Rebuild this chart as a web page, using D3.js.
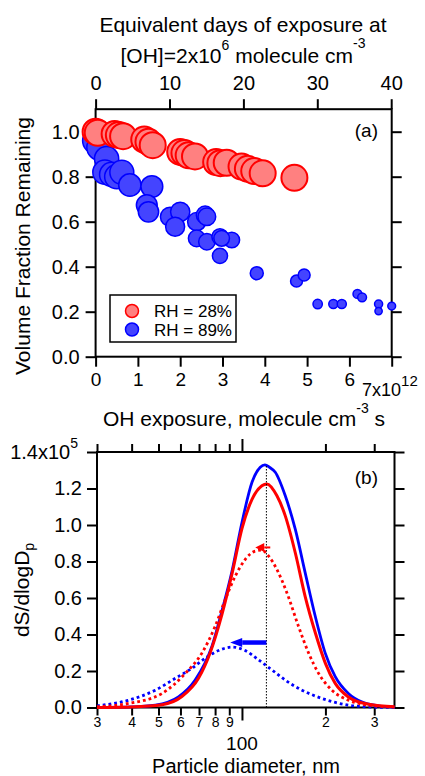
<!DOCTYPE html>
<html>
<head>
<meta charset="utf-8">
<script src="https://cdn.jsdelivr.net/npm/d3@7"></script>
<style>
body{margin:0;background:#fff}
text{font-family:"Liberation Sans",Arial,sans-serif;fill:#000}
</style>
</head>
<body>
<div class="chart"></div>
<script>
// panel (a): OH exposure (x1e12 molecule cm-3 s) vs volume fraction remaining
var redX = [0.0, 0.05, 0.45, 0.55, 0.65, 1.15, 1.25, 1.35, 2.0, 2.1, 2.2, 2.35, 2.85, 2.95, 3.1, 3.45, 3.6, 3.75, 3.95, 4.7]
var redY = [1.0, 0.995, 0.99, 0.985, 0.98, 0.965, 0.955, 0.94, 0.91, 0.905, 0.895, 0.89, 0.865, 0.86, 0.862, 0.845, 0.835, 0.825, 0.815, 0.795]
var blueX = [0.0, 0.1, 0.26, 0.22, 0.38, 0.5, 0.62, 0.81, 1.33, 1.21, 1.25, 1.76, 2.0, 1.88, 2.39, 2.59, 2.63, 2.39, 2.63, 2.94, 3.22, 2.98, 2.94, 3.81, 4.75, 4.93, 5.25, 5.62, 5.82, 6.19, 6.3, 6.69, 6.69, 7.0]
var blueY = [0.96, 0.93, 0.88, 0.82, 0.81, 0.80, 0.82, 0.763, 0.756, 0.674, 0.644, 0.622, 0.644, 0.578, 0.60, 0.63, 0.622, 0.526, 0.511, 0.533, 0.519, 0.526, 0.448, 0.371, 0.336, 0.363, 0.234, 0.234, 0.234, 0.279, 0.264, 0.234, 0.203, 0.225]
// relative marker size of the RH=89% points
var blueSize = [1.0, 1.0, 0.93, 0.93, 0.93, 0.93, 0.92, 0.86, 0.84, 0.8, 0.78, 0.74, 0.74, 0.73, 0.7, 0.68, 0.68, 0.64, 0.63, 0.62, 0.6, 0.6, 0.58, 0.5, 0.46, 0.46, 0.36, 0.35, 0.35, 0.34, 0.34, 0.31, 0.28, 0.3]
var expTicks = [0, 1, 2, 3, 4, 5, 6, 7]
var dayTicks = [0, 10, 20, 30, 40]
var fracTicks = [0, 0.2, 0.4, 0.6, 0.8, 1.0]
var legendLabels = ["RH = 28%", "RH = 89%"]

// panel (b): surface size distributions (x1e5), diameter in nm
var blueSolidD = [30, 40, 48.7, 59, 67.8, 77.9, 84.7, 92, 100, 108.7, 116.4, 121, 126, 131.9, 143.3, 155.7, 169.1, 183.8, 199.7, 217, 242, 270, 311, 355]
var blueSolidV = [0, 0.003, 0.013, 0.058, 0.15, 0.334, 0.53, 0.745, 1.014, 1.234, 1.317, 1.33, 1.315, 1.289, 1.16, 0.977, 0.738, 0.5, 0.298, 0.169, 0.077, 0.031, 0.009, 0.002]
var redSolidD = [30, 40, 51.5, 60.7, 69.7, 76.8, 84.7, 92, 100, 108.7, 118, 123, 133.7, 143.3, 155.7, 169, 184, 200, 217, 242, 286, 355]
var redSolidV = [0, 0.003, 0.015, 0.06, 0.16, 0.3, 0.51, 0.73, 0.98, 1.14, 1.215, 1.225, 1.16, 1.05, 0.848, 0.609, 0.408, 0.242, 0.132, 0.058, 0.018, 0.004]
var redDotD = [30, 39, 51.5, 62.5, 71.7, 80, 87, 94.6, 102.8, 111.7, 118, 124.8, 133.7, 145.3, 160, 174, 189, 211, 242, 286, 355]
var redDotV = [0.004, 0.022, 0.077, 0.187, 0.298, 0.444, 0.591, 0.72, 0.812, 0.857, 0.862, 0.83, 0.756, 0.628, 0.444, 0.298, 0.187, 0.095, 0.04, 0.013, 0.002]
var blueDotD = [30, 39, 48.7, 57.5, 66, 73.7, 82.3, 92, 102.8, 114.8, 128.3, 143.3, 164.6, 194, 242, 300, 355]
var blueDotV = [0.009, 0.04, 0.095, 0.16, 0.215, 0.27, 0.312, 0.331, 0.312, 0.261, 0.206, 0.15, 0.095, 0.05, 0.013, 0.002, 0]
var peakD = 122.5
var peakTop = 1.33
// shift arrows: [from D, to D, level]
var redArrow = [126.5, 111.7, 0.877]
var blueArrow = [122.5, 90.7, 0.356]
var dpTicks = [30, 40, 50, 60, 70, 80, 90, 100, 200, 300]
var dpLabels = ["3", "4", "5", "6", "7", "8", "9", "", "2", "3"]
var dsTicks = [0, 0.2, 0.4, 0.6, 0.8, 1.0, 1.2, 1.4]

var width = 425
var height = 776
var svg = d3.select(".chart").append("svg")
  .attr("width", width)
  .attr("height", height)

var xa = d3.scaleLinear().domain([0, 7]).range([95.6, 391.7])
var xdays = d3.scaleLinear().domain([0, 40]).range([95.6, 391.2])
var ya = d3.scaleLinear().domain([0, 1.1]).range([356.7, 109.2])
var rSize = d3.scaleLinear().domain([0, 1]).range([0, 13])

var xb = d3.scaleLog().domain([30, 355]).range([97, 394.5])
var yb = d3.scaleLinear().domain([0, 1.4]).range([707.5, 452])

function styleAxis(g, fs) {
  g.attr("font-family", null).attr("font-size", fs)
  g.select(".domain").remove()
  g.selectAll(".tick line").attr("stroke", "#000").attr("stroke-width", 2)
  g.selectAll(".tick text").attr("fill", "#000")
}

// ---------- panel (a) ----------
svg.append("g").attr("transform", "translate(0,356.7)")
  .call(d3.axisBottom(xa).tickValues(expTicks).tickSize(10).tickPadding(6)
    .tickFormat(d => d == 7 ? "" : d))
  .call(g => styleAxis(g, 19))
svg.append("g").attr("transform", "translate(0,109.2)")
  .call(d3.axisTop(xdays).tickValues(dayTicks).tickSize(10).tickPadding(9))
  .call(g => styleAxis(g, 20))
svg.append("g").attr("transform", "translate(95.6,0)")
  .call(d3.axisLeft(ya).tickValues(fracTicks).tickSize(10).tickPadding(6).tickFormat(d3.format(".1f")))
  .call(g => styleAxis(g, 20))
svg.append("g").attr("transform", "translate(391.7,0)")
  .call(d3.axisRight(ya).tickValues(fracTicks).tickSize(10).tickFormat(""))
  .call(g => styleAxis(g, 20))

svg.append("rect")
  .attr("x", xa(0)).attr("y", ya(1.1))
  .attr("width", xa(7) - xa(0)).attr("height", ya(0) - ya(1.1))
  .attr("fill", "none").attr("stroke", "#000").attr("stroke-width", 2)

var blueIdx = d3.range(blueX.length)
svg.append("g").selectAll("circle")
  .data(blueIdx)
  .enter()
  .append("circle")
  .attr("cx", i => xa(blueX[i]))
  .attr("cy", i => ya(blueY[i]))
  .attr("r", i => rSize(blueSize[i]))
  .attr("fill", "#4444ff")
  .attr("stroke", "#0000ff")
  .attr("stroke-width", 1.5)

var redIdx = d3.range(redX.length)
svg.append("g").selectAll("circle")
  .data(redIdx)
  .enter()
  .append("circle")
  .attr("cx", i => xa(redX[i]))
  .attr("cy", i => ya(redY[i]))
  .attr("r", 13)
  .attr("fill", "#ff8080")
  .attr("stroke", "#ff0000")
  .attr("stroke-width", 2)

// axis titles (a)
svg.append("text").attr("x", 243).attr("y", 32).attr("text-anchor", "middle").attr("font-size", 21)
  .text("Equivalent days of exposure at")
var t2 = svg.append("text").attr("x", 243).attr("y", 63).attr("text-anchor", "middle").attr("font-size", 21)
t2.append("tspan").text("[OH]=2x10")
t2.append("tspan").attr("dy", -13).attr("font-size", 14).text("6")
t2.append("tspan").attr("dy", 13).text(" molecule cm")
t2.append("tspan").attr("dy", -15).attr("font-size", 14).text("-3")

var t7 = svg.append("text").attr("x", 362).attr("y", 396).attr("font-size", 18)
t7.append("tspan").text("7x10")
t7.append("tspan").attr("dy", -10).attr("font-size", 15).text("12")

var t3 = svg.append("text").attr("x", 244).attr("y", 426).attr("text-anchor", "middle").attr("font-size", 21)
t3.append("tspan").text("OH exposure, molecule cm")
t3.append("tspan").attr("dy", -13).attr("font-size", 14).text("-3")
t3.append("tspan").attr("dy", 13).text(" s")

svg.append("text")
  .attr("transform", "translate(30,246) rotate(-90)")
  .attr("text-anchor", "middle").attr("font-size", 21)
  .text("Volume Fraction Remaining")

svg.append("text").attr("x", 378).attr("y", 137).attr("text-anchor", "end").attr("font-size", 19).text("(a)")

// legend
svg.append("rect").attr("x", 110).attr("y", 295).attr("width", 126).attr("height", 47)
  .attr("fill", "#fff").attr("stroke", "#000").attr("stroke-width", 1.5)
var legColors = [["#ff8080", "#ff0000"], ["#4444ff", "#0000ff"]]
legendLabels.forEach(function(lab, i) {
  svg.append("circle").attr("cx", 132).attr("cy", 311 + i * 18.5).attr("r", 6.5)
    .attr("fill", legColors[i][0]).attr("stroke", legColors[i][1]).attr("stroke-width", 1.5)
  svg.append("text").attr("x", 154).attr("y", 317 + i * 18.5).attr("font-size", 17).text(lab)
})

// ---------- panel (b) ----------
svg.append("g").attr("transform", "translate(0,707.5)")
  .call(d3.axisBottom(xb).tickValues(dpTicks).tickSize(8).tickPadding(2)
    .tickFormat((d, i) => dpLabels[i]))
  .call(g => styleAxis(g, 14))
  .call(g => g.selectAll(".tick line").filter(d => d == 100).attr("y2", 13))
svg.append("g").attr("transform", "translate(0,452)")
  .call(d3.axisTop(xb).tickValues(dpTicks).tickSize(8).tickFormat(""))
  .call(g => styleAxis(g, 14))
  .call(g => g.selectAll(".tick line").filter(d => d == 100).attr("y2", -13))
svg.append("g").attr("transform", "translate(97,0)")
  .call(d3.axisLeft(yb).tickValues(dsTicks).tickSize(10).tickPadding(5)
    .tickFormat(d => d == 1.4 ? "" : d3.format(".1f")(d)))
  .call(g => styleAxis(g, 20))
svg.append("g").attr("transform", "translate(394.5,0)")
  .call(d3.axisRight(yb).tickValues(dsTicks).tickSize(10).tickFormat(""))
  .call(g => styleAxis(g, 20))

svg.append("rect")
  .attr("x", xb(30)).attr("y", yb(1.4))
  .attr("width", xb(355) - xb(30)).attr("height", yb(0) - yb(1.4))
  .attr("fill", "none").attr("stroke", "#000").attr("stroke-width", 2)

var t14 = svg.append("text").attr("x", 78).attr("y", yb(1.4) + 7).attr("text-anchor", "end").attr("font-size", 20)
t14.append("tspan").text("1.4x10")
t14.append("tspan").attr("dy", -11).attr("font-size", 14).text("5")

svg.append("text").attr("x", xb(100)).attr("y", 750).attr("text-anchor", "middle").attr("font-size", 19).text("100")
svg.append("text").attr("x", 246).attr("y", 773).attr("text-anchor", "middle").attr("font-size", 20).text("Particle diameter, nm")

var ty = svg.append("text")
  .attr("transform", "translate(29,590) rotate(-90)")
  .attr("text-anchor", "middle").attr("font-size", 21)
ty.append("tspan").text("dS/dlogD")
ty.append("tspan").attr("dy", 5).attr("font-size", 14).text("p")

svg.append("text").attr("x", 378).attr("y", 484).attr("text-anchor", "end").attr("font-size", 19).text("(b)")

var line = d3.line()
  .x(d => xb(d[0]))
  .y(d => yb(d[1]))
  .curve(d3.curveMonotoneX)

function curve(ds, vs, color, w, dash) {
  svg.append("path")
    .datum(d3.zip(ds, vs))
    .attr("d", line)
    .attr("fill", "none")
    .attr("stroke", color)
    .attr("stroke-width", w)
    .attr("stroke-dasharray", dash)
}

curve(blueDotD, blueDotV, "#0000ff", 2.8, "2.8,3")
curve(blueSolidD, blueSolidV, "#0000ff", 2.8, null)
curve(redDotD, redDotV, "#ff0000", 2.8, "2.8,3")
curve(redSolidD, redSolidV, "#ff0000", 3, null)

svg.append("line")
  .attr("x1", xb(peakD)).attr("x2", xb(peakD))
  .attr("y1", yb(0)).attr("y2", yb(peakTop))
  .attr("stroke", "#000").attr("stroke-width", 1).attr("stroke-dasharray", "1.5,1.5")

function arrow(a, color, shaftW, headL, headH) {
  var x0 = xb(a[0]), x1 = xb(a[1]), y = yb(a[2])
  svg.append("line")
    .attr("x1", x0).attr("x2", x1 + headL).attr("y1", y).attr("y2", y)
    .attr("stroke", color).attr("stroke-width", shaftW)
  svg.append("path")
    .attr("d", "M" + x1 + "," + y + "L" + (x1 + headL) + "," + (y - headH / 2) + "L" + (x1 + headL) + "," + (y + headH / 2) + "Z")
    .attr("fill", color)
}
arrow(redArrow, "#ff0000", 2, 9, 9)
arrow(blueArrow, "#0000ff", 4.5, 12, 9)
</script>
</body>
</html>
